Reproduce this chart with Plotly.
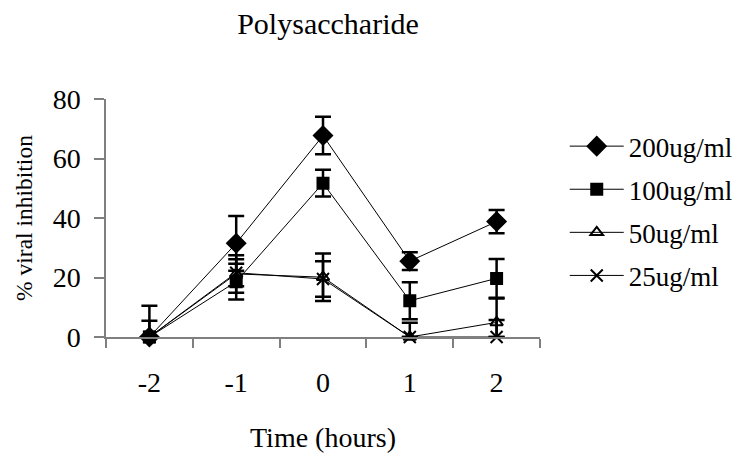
import numpy as np
import plotly.graph_objects as go

times = ["-2", "-1", "0", "1", "2"]
series_names = ["200ug/ml", "100ug/ml", "50ug/ml", "25ug/ml"]

v200 = [0, 31.5, 67.7, 25.5, 38.8]
e200 = [5.5, 9.2, 6.3, 3.0, 3.9]
v100 = [0, 18.6, 51.7, 12.2, 19.7]
e100 = [10.5, 6.0, 4.5, 6.2, 6.5]
v50 = [0, 21.2, 20.1, 0, 4.9]
e50 = [0, 6.3, 8.0, 4.8, 8.0]
v25 = [0, 21.6, 19.5, 0, 0]
e25 = [0, 4.5, 6.0, 0, 5.7]

values = [v200, v100, v50, v25]
errors = [e200, e100, e50, e25]
symbols = ["diamond", "square", "triangle-up-open", "x-thin-open"]
sizes = [14, 11, 11, 12]

FONT = "Liberation Serif"

def f(size):
    return dict(family=FONT, size=size, color="black")

# the page body adds an 8px margin, so the figure is 8px smaller on each axis
W, H = 746, 446

fig = go.Figure()
for i, (name, v, e, sym, sz) in enumerate(zip(series_names, values, errors, symbols, sizes)):
    v = np.array(v, dtype=float)
    e = np.array(e, dtype=float)
    fig.add_trace(go.Scatter(
        x=times, y=v, name=name, mode="lines+markers",
        legendgroup=f"g{i}",
        line=dict(color="black", width=1),
        marker=dict(symbol=sym, size=sz, color="black",
                    line=dict(color="black", width=2)),
        error_y=dict(type="data", symmetric=False, array=e,
                     arrayminus=np.minimum(e, v), color="black",
                     thickness=2.5, width=8),
        cliponaxis=False,
    ))

fig.update_layout(
    width=W, height=H,
    paper_bgcolor="white", plot_bgcolor="white",
    margin=dict(l=98, r=214, t=91, b=117),
    font=f(28),
    title=dict(text="Polysaccharide", x=320/W, xanchor="center",
               y=1 - 5/H, yanchor="top", pad=dict(t=0, b=0), font=f(30)),
    showlegend=True,
    legend=dict(x=1.057, xanchor="left", y=0.903, yanchor="top",
                font=f(27), tracegroupgap=5, itemwidth=54,
                bgcolor="rgba(0,0,0,0)"),
)
fig.update_xaxes(
    type="category", range=[-0.5, 4.5], tickson="boundaries",
    ticks="outside", ticklen=9, tickcolor="#7f7f7f", tickwidth=1.5,
    showline=True, linecolor="#7f7f7f", linewidth=1.5,
    showgrid=False, zeroline=False, tickfont=f(28), automargin=False,
    ticklabelstandoff=20,
    title=dict(text="Time (hours)", font=f(28), standoff=30),
)
fig.update_yaxes(
    range=[0, 80], tickvals=[0, 20, 40, 60, 80],
    ticks="outside", ticklen=10, tickcolor="#7f7f7f", tickwidth=1.5,
    showline=True, linecolor="#7f7f7f", linewidth=1.5,
    showgrid=False, zeroline=False, tickfont=f(28), automargin=False,
    ticklabelstandoff=8,
    title=dict(text="% viral inhibition", font=f(23.5), standoff=13),
)

fig.write_html("out.html")
